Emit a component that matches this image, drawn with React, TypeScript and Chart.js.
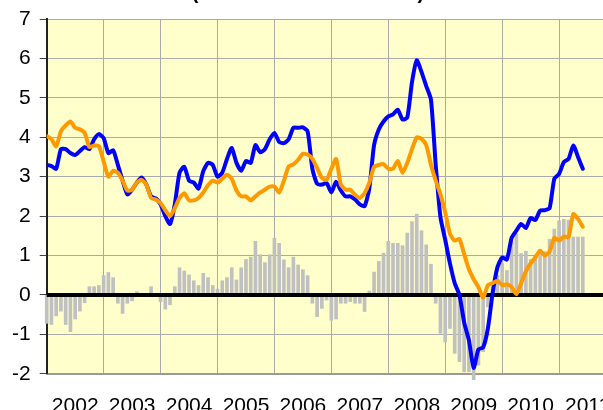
import React, { useEffect, useRef } from 'react';
import { Chart, registerables } from 'chart.js';

Chart.register(...registerables);

const TITLE = '(Annual Rate in Percent)';
const YEAR_LABELS = ['2002', '2003', '2004', '2005', '2006', '2007', '2008', '2009', '2010', '2011'];
const MONTHS_PER_YEAR = 12;
const Y_MIN = -2;
const Y_MAX = 7;

// Monthly values, Jan 2002 .. Jun 2011
const BLUE_SERIES = [
  3.3, 3.27, 3.2, 3.7, 3.7, 3.6, 3.55, 3.65, 3.75, 3.7, 3.95, 4.08,
  3.98, 3.6, 3.67, 3.3, 2.9, 2.55, 2.67, 2.85, 2.98, 2.8, 2.5, 2.45,
  2.3, 2.0, 1.8, 2.3, 3.1, 3.25, 2.9, 2.85, 2.7, 3.14, 3.35, 3.3,
  3.0, 3.1, 3.45, 3.73, 3.35, 3.15, 3.4, 3.35, 3.8, 3.62, 3.7, 3.95,
  4.11, 3.88, 3.85, 3.95, 4.24, 4.24, 4.25, 4.15, 3.2, 2.82, 2.8, 2.84,
  2.6, 2.87, 2.65, 2.5, 2.5, 2.42, 2.3, 2.25, 2.7, 3.8, 4.2, 4.4,
  4.53, 4.58, 4.7, 4.45, 4.5, 5.4, 5.95, 5.66, 5.3, 4.95, 3.3, 1.97,
  1.4, 0.8, 0.3, 0.0, -0.7, -1.15, -1.85, -1.38, -1.33, -0.85, 0.05, 0.7,
  0.95, 0.9, 1.45, 1.63, 1.8, 1.7, 1.95, 1.9, 2.14, 2.15, 2.2, 2.95,
  3.07, 3.37, 3.45, 3.79, 3.5, 3.2,
];

const ORANGE_SERIES = [
  4.03, 3.95, 3.77, 4.15, 4.3, 4.4, 4.24, 4.2, 4.11, 3.75, 3.79, 3.78,
  3.39, 3.0, 3.15, 3.1, 2.9, 2.65, 2.67, 2.85, 2.92, 2.8, 2.46, 2.42,
  2.33, 2.15, 2.0, 2.2, 2.46, 2.58, 2.4, 2.4, 2.46, 2.6, 2.78, 2.9,
  2.85, 2.95, 3.05, 2.95, 2.65, 2.5, 2.5, 2.4, 2.5, 2.6, 2.67, 2.75,
  2.75, 2.6, 2.9, 3.26, 3.31, 3.43, 3.58, 3.56, 3.45, 3.22, 2.97, 2.92,
  3.2, 3.45, 2.8, 2.67, 2.67, 2.54, 2.46, 2.58, 2.85, 3.25, 3.3, 3.32,
  3.2, 3.2, 3.4, 3.1, 3.35, 3.7, 4.0, 3.96, 3.8, 3.3, 2.9, 2.55,
  2.1, 1.55, 1.38, 1.42, 1.03, 0.65, 0.4, 0.2, -0.07, 0.25, 0.3, 0.36,
  0.25, 0.27, 0.2, 0.02, 0.3, 0.6, 0.8, 0.95, 1.12, 1.0, 1.1, 1.45,
  1.38, 1.48, 1.47, 2.05, 1.93, 1.73,
];

const BAR_SERIES = [
  -0.72, -0.75, -0.53, -0.41, -0.75, -0.93, -0.61, -0.41, -0.2, 0.21, 0.21, 0.24,
  0.49, 0.57, 0.44, -0.21, -0.47, -0.21, -0.15, 0.08, 0, 0, 0.21, 0,
  -0.17, -0.36, -0.25, 0.21, 0.69, 0.61, 0.51, 0.36, 0.24, 0.55, 0.44, 0.24,
  0.15, 0.36, 0.44, 0.69, 0.38, 0.69, 0.9, 0.96, 1.36, 1.02, 0.82, 1.02,
  1.44, 1.31, 0.89, 0.69, 0.96, 0.76, 0.64, 0.49, -0.21, -0.55, -0.34, -0.13,
  -0.64, -0.61, -0.21, -0.21, -0.17, -0.21, -0.21, -0.42, 0.1, 0.58, 0.85, 1.06,
  1.36, 1.31, 1.31, 1.25, 1.57, 1.86, 2.05, 1.63, 1.27, 0.78, -0.21, -0.97,
  -1.19, -0.85, -1.48, -1.69, -1.95, -1.95, -2.15, -1.78, -1.44, -0.3, 0.2, 0.5,
  0.81, 0.62, 1.35, 1.55, 1.05, 1.11, 0.9, 0.98, 1.15, 1.1, 1.41, 1.67,
  1.88, 1.92, 1.9, 1.47, 1.47, 1.47,
];

const FONT = "'Liberation Sans', Arial, sans-serif";

const toPoints = (values: number[]) => values.map((v, i) => ({ x: i, y: v }));

const backgroundPlugin = {
  id: 'plotBackground',
  beforeDraw(chart: any) {
    const { ctx, chartArea } = chart;
    ctx.save();
    ctx.fillStyle = '#FFFFCC';
    ctx.fillRect(chartArea.left, chartArea.top, chartArea.right - chartArea.left, chartArea.bottom - chartArea.top);
    ctx.restore();
  },
};

const zeroLinePlugin = {
  id: 'zeroLine',
  afterDatasetDraw(chart: any, args: any) {
    if (args.index !== 0) return;
    const { ctx, chartArea, scales } = chart;
    const y = scales.y.getPixelForValue(0);
    ctx.save();
    ctx.strokeStyle = '#000000';
    ctx.lineWidth = 4;
    ctx.beginPath();
    ctx.moveTo(chartArea.left, y);
    ctx.lineTo(chartArea.right, y);
    ctx.stroke();
    ctx.restore();
  },
};

export default function App() {
  const ref = useRef<HTMLCanvasElement>(null);

  useEffect(() => {
    document.body.style.margin = '0';
    document.body.style.overflow = 'hidden';
    const canvas = ref.current;
    if (!canvas) return;
    const monthsTotal = YEAR_LABELS.length * MONTHS_PER_YEAR;
    const chart = new Chart(canvas, {
      type: 'bar',
      data: {
        datasets: [
          {
            type: 'bar',
            data: toPoints(BAR_SERIES),
            backgroundColor: '#C0C0C0',
            barThickness: 3,
            order: 3,
            clip: false as any,
          } as any,
          {
            type: 'line',
            data: toPoints(BLUE_SERIES),
            borderColor: '#0000FF',
            borderWidth: 4,
            pointRadius: 0,
            tension: 0.2,
            borderJoinStyle: 'round',
            borderCapStyle: 'round',
            order: 2,
          } as any,
          {
            type: 'line',
            data: toPoints(ORANGE_SERIES),
            borderColor: '#FF9900',
            borderWidth: 4,
            pointRadius: 0,
            tension: 0.2,
            borderJoinStyle: 'round',
            borderCapStyle: 'round',
            order: 1,
          } as any,
        ],
      },
      options: {
        responsive: false,
        animation: false,
        devicePixelRatio: 1,
        layout: { padding: { left: 0, right: 22, top: 0, bottom: 0 } },
        plugins: {
          legend: { display: false },
          tooltip: { enabled: false },
          title: {
            display: true,
            text: TITLE,
            color: '#000',
            font: { family: FONT, size: 20, weight: 'bold' },
            padding: { top: 11, bottom: 14 },
          },
        },
        scales: {
          x: {
            type: 'linear',
            min: 0,
            max: monthsTotal,
            offset: false,
            grid: { color: '#AAAAAA', lineWidth: 1, drawTicks: false, offset: false },
            border: { color: '#999999', width: 2 },
            ticks: {
              stepSize: MONTHS_PER_YEAR,
              autoSkip: false,
              maxRotation: 0,
              labelOffset: 28.5,
              padding: 20,
              color: '#000',
              font: { family: FONT, size: 21 },
              callback: (v: any) => {
                const idx = Math.round(Number(v) / MONTHS_PER_YEAR);
                return idx < YEAR_LABELS.length ? YEAR_LABELS[idx] : '';
              },
            },
          },
          y: {
            min: Y_MIN,
            max: Y_MAX,
            grid: { color: '#AAAAAA', lineWidth: 1, tickLength: 7, tickColor: '#444444' },
            border: { color: '#222222', width: 2 },
            afterFit: (scale: any) => {
              scale.width = 46.7;
            },
            ticks: {
              stepSize: 1,
              padding: 9,
              color: '#000',
              font: { family: FONT, size: 21 },
            },
          },
        },
      },
      plugins: [backgroundPlugin, zeroLinePlugin],
    } as any);
    return () => chart.destroy();
  }, []);

  return (
    <div style={{ position: 'fixed', left: 0, top: -30 }}>
      <canvas ref={ref} width={638} height={469} style={{ display: 'block' }} />
    </div>
  );
}
